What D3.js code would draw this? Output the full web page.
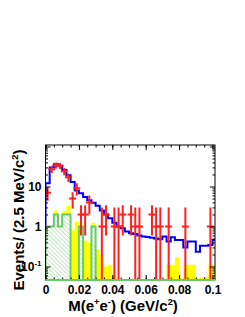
<!DOCTYPE html>
<html>
<head>
<meta charset="utf-8">
<script src="https://cdn.jsdelivr.net/npm/d3@7"></script>
<style>
  body { margin: 0; background: #fff; }
  text { font-family: "Liberation Sans", Arial, sans-serif; font-weight: bold; fill: #000; }
</style>
</head>
<body>
<div id="chart"></div>
<script>
// 2.5 MeV bins starting at 0
var binWidth = 0.0025;
var xTicks = [0, 0.02, 0.04, 0.06, 0.08, 0.1];
var xTickLabels = ["0", "0.02", "0.04", "0.06", "0.08", "0.1"];
var yTicks = [0.1, 1, 10, 100];

// data (red points), events per bin and error bar lengths
var dataCounts = [7, 27, 34, 33, 24, 17, 5, 9, 2, 2, 4, 0, 0, 1, 2, 0, 1, 1, 2, 0,
                  2, 1, 1, 0, 0, 2, 1, 1, 0, 1, 0, 0, 0, 1, 0, 0, 0, 0, 0, 1, 0];
var dataErrUp = [2.6, 5.2, 5.8, 5.7, 4.9, 4.1, 2.2, 3, 1.4, 1.4, 2, 0, 0, 2, 1.4, 0, 2, 2, 1.4, 0,
                 1.4, 2, 2, 0, 0, 1.4, 2, 2, 0, 2, 0, 0, 0, 2, 0, 0, 0, 0, 0, 2, 0];
var dataErrDown = [2.6, 5.2, 5.8, 5.7, 4.9, 4.1, 2.2, 3, 1.4, 1.4, 2, 0, 0, 1, 1.4, 0, 1, 1, 1.4, 0,
                   1.4, 1, 1, 0, 0, 1.4, 1, 1, 0, 1, 0, 0, 0, 1, 0, 0, 0, 0, 0, 1, 0];

// total MC (blue line)
var mcTotal = [12, 30, 36, 33, 26, 19, 13, 8, 6.8, 5.5, 4.5, 3.9, 3.3, 2.5, 2.0, 1.6, 1.25, 1.0, 0.9, 0.75,
               0.68, 0.65, 0.6, 0.56, 0.55, 0.52, 0.5, 0.48, 0.56, 0.42, 0.54, 0.46, 0.46, 0.30, 0.42, 0.42, 0.235, 0.33, 0.33, 0.345, 0.46];
// yellow background
var bkgYellow = [1, 1, 2.5, 1, 2.4, 3.3, 0.8, 1.3, 1.1, 0.45, 0.4, 1.25, 0.26, 0.2, 0.1, 0.11, 0.06, 0, 0, 0,
                 0, 0, 0, 0, 0, 0, 0, 0, 0, 0.11, 0.11, 0.17, 0.05, 0.11, 0.11, 0.11, 0.05, 0.055, 0.055, 0.11, 0.11];
// green hatched background
var bkgGreen = [1, 1, 2, 1, 2, 2, 0, 0, 1, 0, 0, 1, 0, 0, 0, 0, 0, 0, 0, 0,
                0, 0, 0, 0, 0, 0, 0, 0, 0, 0, 0, 0, 0, 0, 0, 0, 0, 0, 0, 0, 0];

var W = 245, H = 317;
var frame = {left: 45.5, right: 215, top: 145, bottom: 280};

var svg = d3.select("#chart").append("svg").attr("width", W).attr("height", H);
svg.append("rect").attr("width", W).attr("height", H).attr("fill", "#fff");

var x = d3.scaleLinear().domain([0, 0.1015]).range([frame.left, frame.right]);
var y = d3.scaleLog().domain([0.046, 109]).range([frame.bottom, frame.top]);
var yMin = y.domain()[0];

var defs = svg.append("defs");
defs.append("clipPath").attr("id", "clip").append("rect")
  .attr("x", frame.left).attr("y", frame.top)
  .attr("width", frame.right - frame.left).attr("height", frame.bottom - frame.top);
var hatch = defs.append("pattern").attr("id", "hatch")
  .attr("patternUnits", "userSpaceOnUse").attr("width", 3).attr("height", 3)
  .attr("patternTransform", "rotate(-45)");
hatch.append("rect").attr("width", 3).attr("height", 3).attr("fill", "#fff");
hatch.append("line").attr("x1", 0).attr("y1", 0).attr("x2", 0).attr("y2", 3)
  .attr("stroke", "#80d080").attr("stroke-width", 1);

// step outline of a histogram, starting and ending on the bottom of the frame
function stepPoints(vals) {
  var pts = [[0, yMin]];
  vals.forEach(function (v, i) {
    var vv = Math.max(v, yMin);
    pts.push([i * binWidth, vv]);
    pts.push([(i + 1) * binWidth, vv]);
  });
  pts.push([vals.length * binWidth, yMin]);
  return pts;
}
var stepLine = d3.line().x(function (d) { return x(d[0]); }).y(function (d) { return y(d[1]); });

var plot = svg.append("g").attr("clip-path", "url(#clip)");

// yellow
plot.append("path").attr("d", stepLine(stepPoints(bkgYellow)) + "Z")
  .attr("fill", "#ffff00").attr("stroke", "none");

// blue total
plot.append("path").attr("d", stepLine(stepPoints(mcTotal)))
  .attr("fill", "none").attr("stroke", "#0000ff").attr("stroke-width", 2);

// green hatched
plot.append("path").attr("d", stepLine(stepPoints(bkgGreen)) + "Z")
  .attr("fill", "url(#hatch)").attr("stroke", "none");
plot.append("path").attr("d", stepLine(stepPoints(bkgGreen)))
  .attr("fill", "none").attr("stroke", "#66cc66").attr("stroke-width", 2);

// data points
var pts = dataCounts.map(function (n, i) {
  return {xc: (i + 0.5) * binWidth, n: n, up: n + dataErrUp[i], dn: n - dataErrDown[i]};
}).filter(function (d) { return d.n > 0; });
var pg = plot.append("g").attr("stroke", "#ff2020").attr("stroke-width", 2);
pg.selectAll(".ev").data(pts).enter().append("line")
  .attr("x1", function (d) { return x(d.xc); }).attr("x2", function (d) { return x(d.xc); })
  .attr("y1", function (d) { return y(d.up); })
  .attr("y2", function (d) { return d.dn > yMin ? y(d.dn) : frame.bottom; });
pg.selectAll(".eh").data(pts).enter().append("line")
  .attr("x1", function (d) { return x(d.xc) - 3.5; }).attr("x2", function (d) { return x(d.xc) + 3.5; })
  .attr("y1", function (d) { return y(d.n); }).attr("y2", function (d) { return y(d.n); });

// axes (ticks inside the frame on all four sides)
var xMinor = d3.range(0, 0.1016, 0.005);
var yMinor = [];
[0.01, 0.1, 1, 10].forEach(function (dec) {
  for (var k = 2; k <= 9; k++) {
    var v = k * dec;
    if (v > yMin && v < y.domain()[1]) yMinor.push(v);
  }
});

function styleAxis(g) {
  g.select(".domain").remove();
  g.selectAll(".tick line").attr("stroke", "#000");
}
svg.append("g").attr("transform", "translate(0," + frame.bottom + ")")
  .call(d3.axisBottom(x).tickValues(xMinor).tickSize(-2.5).tickFormat("")).call(styleAxis);
var xAx = svg.append("g").attr("transform", "translate(0," + frame.bottom + ")")
  .call(d3.axisBottom(x).tickValues(xTicks).tickSize(-5).tickPadding(5.5)
    .tickFormat(function (d, i) { return xTickLabels[i]; }))
  .call(styleAxis);
xAx.selectAll("text").attr("font-size", 12).attr("font-family", null);
svg.append("g").attr("transform", "translate(0," + frame.top + ")")
  .call(d3.axisTop(x).tickValues(xMinor).tickSize(-2.5).tickFormat("")).call(styleAxis);
svg.append("g").attr("transform", "translate(0," + frame.top + ")")
  .call(d3.axisTop(x).tickValues(xTicks).tickSize(-5).tickFormat("")).call(styleAxis);

svg.append("g").attr("transform", "translate(" + frame.left + ",0)")
  .call(d3.axisLeft(y).tickValues(yMinor).tickSize(-2.5).tickFormat("")).call(styleAxis);
var yAx = svg.append("g").attr("transform", "translate(" + frame.left + ",0)")
  .call(d3.axisLeft(y).tickValues(yTicks).tickSize(-5).tickPadding(4).tickFormat(""))
  .call(styleAxis);
svg.append("g").attr("transform", "translate(" + frame.right + ",0)")
  .call(d3.axisRight(y).tickValues(yMinor).tickSize(-2.5).tickFormat("")).call(styleAxis);
svg.append("g").attr("transform", "translate(" + frame.right + ",0)")
  .call(d3.axisRight(y).tickValues(yTicks).tickSize(-5).tickFormat("")).call(styleAxis);

// y tick labels: 10^-1, 1, 10
yAx.selectAll(".tick text").each(function (d) {
  var t = d3.select(this).attr("font-size", 12).attr("font-family", null);
  if (d === 10) t.text("10");
  else if (d === 1) t.text("1");
  else if (d === 0.1) {
    t.append("tspan").text("10");
    t.append("tspan").attr("font-size", 8).attr("dy", "-0.6em").text("-1");
  }
});

// frame
svg.append("rect").attr("x", frame.left).attr("y", frame.top)
  .attr("width", frame.right - frame.left).attr("height", frame.bottom - frame.top)
  .attr("fill", "none").attr("stroke", "#000").attr("stroke-width", 1);
// green zero line sits on the bottom edge
svg.append("line").attr("x1", frame.left).attr("x2", frame.right)
  .attr("y1", frame.bottom).attr("y2", frame.bottom)
  .attr("stroke", "#66cc66").attr("stroke-width", 2);

// axis titles with superscripts
function richText(sel, parts, size) {
  parts.forEach(function (p) {
    if (p[1]) {
      sel.append("tspan").attr("font-size", size * 0.62).attr("dy", -size * 0.4).text(p[0]);
    } else {
      sel.append("tspan").attr("dy", p[2] ? size * 0.4 : 0).text(p[0]);
    }
  });
}
var xt = svg.append("text").attr("x", 123).attr("y", 311).attr("text-anchor", "middle").attr("font-size", 15);
richText(xt, [["M(e", 0], ["+", 1], ["e", 0, 1], ["-", 1], [") (GeV/c", 0, 1], ["2", 1], [")", 0, 1]], 15);

var yt = svg.append("text").attr("transform", "translate(24,220) rotate(-90)")
  .attr("text-anchor", "middle").attr("font-size", 15);
richText(yt, [["Events/ (2.5 MeV/c", 0], ["2", 1], [")", 0, 1]], 15);
</script>
</body>
</html>
